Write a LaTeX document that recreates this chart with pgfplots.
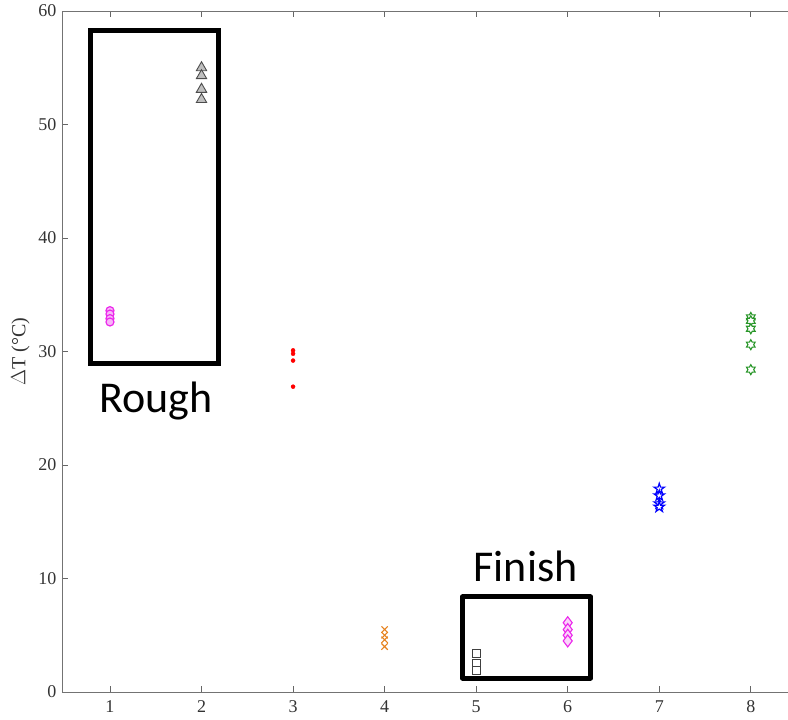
\documentclass[border=0pt]{standalone}
\usepackage{fontspec}
\setmainfont{Liberation Serif}
\newfontfamily\calib{Carlito}
\usepackage{pgfplots}
\pgfplotsset{compat=1.18}

% five-pointed and six-pointed star marks
\pgfdeclareplotmark{pentagram}{%
  \pgfpathmoveto{\pgfpointpolar{90}{\pgfplotmarksize}}%
  \pgfpathlineto{\pgfpointpolar{126}{0.382\pgfplotmarksize}}%
  \pgfpathlineto{\pgfpointpolar{162}{\pgfplotmarksize}}%
  \pgfpathlineto{\pgfpointpolar{198}{0.382\pgfplotmarksize}}%
  \pgfpathlineto{\pgfpointpolar{234}{\pgfplotmarksize}}%
  \pgfpathlineto{\pgfpointpolar{270}{0.382\pgfplotmarksize}}%
  \pgfpathlineto{\pgfpointpolar{306}{\pgfplotmarksize}}%
  \pgfpathlineto{\pgfpointpolar{342}{0.382\pgfplotmarksize}}%
  \pgfpathlineto{\pgfpointpolar{18}{\pgfplotmarksize}}%
  \pgfpathlineto{\pgfpointpolar{54}{0.382\pgfplotmarksize}}%
  \pgfpathclose
  \pgfusepathqfillstroke}
\pgfdeclareplotmark{hexagram}{%
  \pgfpathmoveto{\pgfpointpolar{90}{\pgfplotmarksize}}%
  \pgfpathlineto{\pgfpointpolar{120}{0.577\pgfplotmarksize}}%
  \pgfpathlineto{\pgfpointpolar{150}{\pgfplotmarksize}}%
  \pgfpathlineto{\pgfpointpolar{180}{0.577\pgfplotmarksize}}%
  \pgfpathlineto{\pgfpointpolar{210}{\pgfplotmarksize}}%
  \pgfpathlineto{\pgfpointpolar{240}{0.577\pgfplotmarksize}}%
  \pgfpathlineto{\pgfpointpolar{270}{\pgfplotmarksize}}%
  \pgfpathlineto{\pgfpointpolar{300}{0.577\pgfplotmarksize}}%
  \pgfpathlineto{\pgfpointpolar{330}{\pgfplotmarksize}}%
  \pgfpathlineto{\pgfpointpolar{0}{0.577\pgfplotmarksize}}%
  \pgfpathlineto{\pgfpointpolar{30}{\pgfplotmarksize}}%
  \pgfpathlineto{\pgfpointpolar{60}{0.577\pgfplotmarksize}}%
  \pgfpathclose
  \pgfusepathqfillstroke}

\definecolor{mag}{RGB}{235,40,235}
\definecolor{ora}{RGB}{230,130,30}
\definecolor{grn}{RGB}{40,150,40}

\begin{document}
\begin{tikzpicture}
\begin{axis}[
  name=ax,
  scale only axis,
  width=730pt, height=681pt,
  xmin=0.476, xmax=8.45,
  ymin=0, ymax=60,
  xtick={1,...,8},
  ytick={0,10,...,60},
  ytick pos=left,
  tick align=inside,
  major tick length=6pt,
  axis line style={draw=black!55, line width=0.9pt},
  tick style={draw=black!60, line width=0.9pt},
  /pgf/number format/assume math mode=true,
  tick label style={font=\fontsize{18}{20}\selectfont, black!80},
  xticklabel style={yshift=-5pt},
  yticklabel style={xshift=-2pt},
  ylabel={$\Delta$T (°C)},
  ylabel style={font=\fontsize{20}{22}\selectfont, black!80, yshift=2pt},
  clip=false,
]
% x = 1 : magenta circles
\addplot[only marks, mark=*, mark size=4pt, draw=mag, fill=mag!35, line width=1.2pt]
  coordinates {(1,33.6) (1,33.3) (1,32.9) (1,32.6)};
% x = 2 : grey triangles
\addplot[only marks, mark=triangle*, mark size=6pt, draw=black!70, fill=black!25, line width=0.9pt]
  coordinates {(2,55.0) (2,54.3) (2,53.1) (2,52.2)};
% x = 3 : red dots
\addplot[only marks, mark=*, mark size=2pt, draw=red, fill=red]
  coordinates {(3,30.1) (3,29.8) (3,29.2) (3,26.9)};
% x = 4 : orange crosses
\addplot[only marks, mark=x, mark size=4.5pt, draw=ora, line width=1.1pt]
  coordinates {(4,5.5) (4,5.0) (4,4.6) (4,4.0)};
% x = 5 : black squares
\addplot[only marks, mark=square*, mark size=3.8pt, draw=black!75, fill=white, line width=0.9pt]
  coordinates {(5,3.4) (5,2.5) (5,1.9)};
% x = 6 : magenta diamonds
\addplot[only marks, mark=diamond*, mark size=6pt, draw=mag, fill=mag!20, line width=1.1pt]
  coordinates {(6,6.1) (6,5.5) (6,5.0) (6,4.5)};
% x = 7 : blue pentagrams
\addplot[only marks, mark=pentagram, mark size=5.5pt, draw=blue, fill=white, line width=1.2pt]
  coordinates {(7,17.9) (7,17.3) (7,16.6) (7,16.3)};
% x = 8 : green hexagrams
\addplot[only marks, mark=hexagram, mark size=5pt, draw=grn, fill=white, line width=1.1pt]
  coordinates {(8,33.0) (8,32.7) (8,32.0) (8,30.6) (8,28.4)};

% grouping frames and their captions
\draw[line width=5pt, line join=miter] (axis cs:0.79,58.3) rectangle (axis cs:2.19,28.9);
\node[anchor=base, font=\calib\fontsize{44}{50}\selectfont] at (axis cs:1.50,24.6) {Rough};
\draw[line width=5pt, line join=round] (axis cs:4.85,8.37) rectangle (axis cs:6.25,1.23);
\node[anchor=base, font=\calib\fontsize{44}{50}\selectfont] at (axis cs:5.54,9.7) {Finish};
\end{axis}
\pgfresetboundingbox
\path (ax.south west) ++(-62pt,-28pt) rectangle ++(788pt,720pt);
\end{tikzpicture}
\end{document}
